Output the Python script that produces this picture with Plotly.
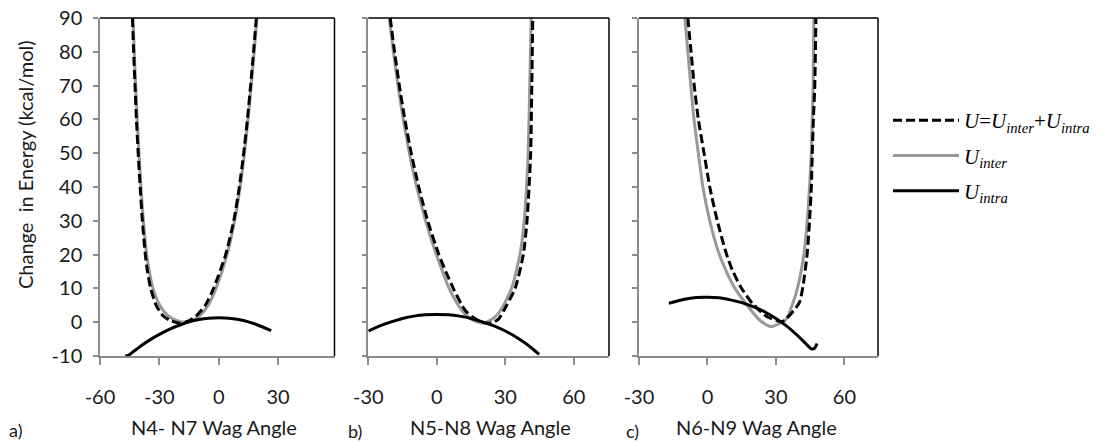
import plotly.graph_objects as go

# ---------------- data ----------------
# Panel a: N4-N7 wag
a_inter_x = [-43.3, -42.7, -42.0, -41.2, -40.3, -39.3, -38.1, -36.4, -35.1, -33.2, -29.8, -25.8, -21.5, -17.5, -13.5, -9.4, -5.3, -1.4, 4.2, 8.0, 10.8, 13.0, 14.8, 16.4, 17.9, 19.3]
a_inter_y = [90, 80, 70, 60, 50, 40, 30, 20, 15, 10, 5, 2, 0.5, 0.0, 0.5, 2, 5, 10, 20, 30, 40, 50, 60, 70, 80, 90]
a_tot_x = [-43.6, -43.0, -42.3, -41.6, -40.7, -39.7, -38.6, -37.1, -36.0, -34.4, -31.6, -28.3, -24.5, -19.5, -15.5, -11.5, -6.8, -2.6, 3.5, 7.6, 10.4, 12.6, 14.5, 16.1, 17.6, 19.0]
a_tot_y = [90, 80, 70, 60, 50, 40, 30, 20, 15, 10, 5, 2, 0.5, -0.3, 0.3, 1.8, 5, 10, 20, 30, 40, 50, 60, 70, 80, 90]
a_intra_x = [-47.3, -46.0, -44.0, -40.0, -35.0, -30.0, -25.0, -20.0, -15.0, -10.0, -5.0, 0.0, 5.0, 10.0, 15.0, 20.0, 26.5]
a_intra_y = [-10.0, -9.9, -9.1, -7.3, -5.3, -3.6, -2.1, -0.9, 0.1, 0.8, 1.2, 1.3, 1.2, 0.8, 0.1, -0.9, -2.5]

# Panel b: N5-N8 wag
b_inter_x = [-20.8, -19.0, -17.0, -14.7, -12.0, -8.8, -4.9, -0.2, 2.5, 5.4, 9.4, 12.9, 16.5, 20.5, 24.0, 27.0, 30.0, 33.0, 36.4, 38.3, 39.3, 40.0, 40.7, 41.3]
b_inter_y = [90, 80, 70, 60, 50, 40, 30, 20, 15, 10, 5, 2, 0.4, -0.2, 0.8, 2.6, 6, 10.5, 20, 30, 40, 50, 70, 90]
b_tot_x = [-20.4, -18.5, -16.4, -14.0, -11.2, -7.9, -4.0, 0.9, 3.9, 7.2, 11.0, 12.8, 16.0, 20.0, 24.0, 27.0, 30.6, 34.3, 37.9, 39.5, 40.4, 41.1, 41.6, 42.0]
b_tot_y = [90, 80, 70, 60, 50, 40, 30, 20, 15, 10, 5, 3.2, 1.4, -0.1, -0.2, 0.9, 5, 10, 20, 30, 40, 50, 70, 90]
b_intra_x = [-30.0, -25.0, -20.0, -15.0, -10.0, -5.0, 0.0, 5.0, 10.0, 15.0, 20.0, 25.0, 30.0, 35.0, 40.0, 44.8]
b_intra_y = [-2.6, -1.1, 0.1, 1.1, 1.8, 2.2, 2.3, 2.2, 1.8, 1.1, 0.1, -1.1, -2.6, -4.5, -6.8, -9.5]

# Panel c: N6-N9 wag
c_inter_x = [-9.9, -8.6, -7.3, -5.9, -4.0, -2.0, 1.0, 5.0, 8.0, 11.6, 16.7, 22.8, 27.7, 34.2, 37.4, 39.6, 42.3, 43.7, 44.7, 45.5, 45.9, 46.3, 46.6]
c_inter_y = [90, 80, 70, 60, 50, 40, 30, 20.4, 15.4, 10.5, 5.6, 0.65, -1.3, 0.65, 5.6, 10.5, 20.4, 30, 40, 50, 60, 70, 90]
c_tot_x = [-8.6, -7.2, -5.8, -4.0, -1.5, 1.0, 4.3, 8.2, 10.9, 14.5, 19.6, 26.2, 32.8, 40.1, 41.8, 43.7, 44.7, 45.5, 45.9, 46.4, 47.0, 47.5]
c_tot_y = [90, 80, 70, 60, 50, 40, 30, 20.4, 15.4, 10.5, 5.6, 1.6, 0.2, 5.6, 10.5, 20.4, 30, 40, 50, 60, 70, 90]
c_intra_x = [-16.9, -10.0, -5.0, 0.0, 5.0, 10.0, 15.0, 20.0, 25.0, 30.0, 35.0, 40.0, 43.0, 45.5, 46.8, 48.0]
c_intra_y = [5.6, 6.8, 7.3, 7.4, 7.2, 6.6, 5.8, 4.6, 3.1, 1.1, -1.3, -4.3, -6.3, -7.9, -7.8, -6.3]

panel_titles = ["N4- N7 Wag Angle", "N5-N8 Wag Angle", "N6-N9 Wag Angle"]
panel_letters = ["a)", "b)", "c)"]
x_ticks_a = [-60, -30, 0, 30]
x_ticks_bc = [-30, 0, 30, 60]
y_ticks = [-10, 0, 10, 20, 30, 40, 50, 60, 70, 80, 90]

legend_tot = "<i>U</i>=<i>U<sub>inter</sub></i>+<i>U<sub>intra</sub></i>"
legend_inter = "<i>U<sub>inter</sub></i>"
legend_intra = "<i>U<sub>intra</sub></i>"

# ---------------- figure ----------------
W, H = 1114, 443
GRAY = "#999999"
AX = "#8c8c8c"
FONT = "Lato"
FS = 20
TXT = "#1a1a1a"

fig = go.Figure()

panels = [
    (a_inter_x, a_inter_y, a_tot_x, a_tot_y, a_intra_x, a_intra_y),
    (b_inter_x, b_inter_y, b_tot_x, b_tot_y, b_intra_x, b_intra_y),
    (c_inter_x, c_inter_y, c_tot_x, c_tot_y, c_intra_x, c_intra_y),
]
for i, (ix, iy, tx, ty, rx, ry) in enumerate(panels):
    xa = "x" if i == 0 else f"x{i+1}"
    ya = "y" if i == 0 else f"y{i+1}"
    show = i == 0
    fig.add_trace(go.Scatter(x=ix, y=iy, xaxis=xa, yaxis=ya, mode="lines",
                             line=dict(color=GRAY, width=3, shape="spline", smoothing=0.6),
                             name=legend_inter, legendgroup="inter", legendrank=2,
                             showlegend=show, hoverinfo="skip"))
    fig.add_trace(go.Scatter(x=rx, y=ry, xaxis=xa, yaxis=ya, mode="lines",
                             line=dict(color="black", width=3, shape="spline", smoothing=0.6),
                             name=legend_intra, legendgroup="intra", legendrank=3,
                             showlegend=show, hoverinfo="skip"))
    fig.add_trace(go.Scatter(x=tx, y=ty, xaxis=xa, yaxis=ya, mode="lines",
                             line=dict(color="black", width=3, dash="9px,4px", shape="spline", smoothing=0.6),
                             name=legend_tot, legendgroup="tot", legendrank=1,
                             showlegend=show, hoverinfo="skip"))

x_domains = [[100 / W, 334.5 / W], [368.3 / W, 609 / W], [639 / W, 878 / W]]
y_domain = [(H - 356) / H, (H - 18) / H]
x_ranges = [[-60, 58.5], [-30, 75.4], [-30, 74.7]]

layout = dict(
    width=W, height=H,
    margin=dict(l=0, r=0, t=0, b=0, pad=0, autoexpand=False),
    paper_bgcolor="white", plot_bgcolor="white",
    font=dict(family=FONT, size=FS, color=TXT),
    legend=dict(x=888 / W, y=(H - 100) / H, xanchor="left", yanchor="top",
                font=dict(family="Liberation Serif", size=21, color="black"),
                traceorder="grouped", tracegroupgap=5, bgcolor="rgba(0,0,0,0)",
                itemwidth=66),
    showlegend=True,
)
for i in range(3):
    suffix = "" if i == 0 else str(i + 1)
    ticks = x_ticks_a if i == 0 else x_ticks_bc
    layout["xaxis" + suffix] = dict(
        domain=x_domains[i], range=x_ranges[i], anchor="y" + suffix,
        tickvals=ticks, ticktext=[str(t) for t in ticks],
        ticks="outside", ticklen=7, tickwidth=1.5, tickcolor=AX,
        showline=True, linecolor=AX, linewidth=1.5,
        showgrid=False, zeroline=False, ticklabelstandoff=15, automargin=False,
        tickfont=dict(family=FONT, size=FS, color=TXT),
    )
    layout["yaxis" + suffix] = dict(
        domain=y_domain, range=[-10, 90], anchor="x" + suffix,
        tickvals=y_ticks, ticktext=[str(t) for t in y_ticks],
        showticklabels=(i == 0),
        ticks="outside", ticklen=5, tickwidth=1.5, tickcolor=AX,
        showline=True, linecolor=AX, linewidth=1.5,
        showgrid=False, zeroline=False, ticklabelstandoff=7, automargin=False,
        tickfont=dict(family=FONT, size=FS, color=TXT),
    )
fig.update_layout(**layout)

# black top/right frame of each plot area
for i in range(3):
    suffix = "" if i == 0 else str(i + 1)
    for (x0, y0, x1, y1) in [(0, 1, 1, 1), (1, 0, 1, 1)]:
        fig.add_shape(type="line", xref=f"x{suffix} domain", yref=f"y{suffix} domain",
                      x0=x0, y0=y0, x1=x1, y1=y1, line=dict(color="black", width=1.5))

# axis titles and panel letters
title_centers = [214, 490, 756]
letter_pos = [(15, 430), (355, 431), (632, 431)]
for i in range(3):
    fig.add_annotation(text=panel_titles[i], xref="paper", yref="paper",
                       x=title_centers[i] / W, y=(H - 427) / H, xanchor="center", yanchor="middle",
                       showarrow=False, font=dict(family=FONT, size=FS, color=TXT))
    lx, ly = letter_pos[i]
    fig.add_annotation(text=panel_letters[i], xref="paper", yref="paper",
                       x=lx / W, y=(H - ly) / H, xanchor="center", yanchor="middle",
                       showarrow=False, font=dict(family=FONT, size=18, color=TXT))

fig.add_annotation(text="Change  in Energy (kcal/mol)", xref="paper", yref="paper",
                   x=25 / W, y=(H - 165) / H, xanchor="center", yanchor="middle",
                   textangle=-90, showarrow=False,
                   font=dict(family=FONT, size=FS, color=TXT))

fig.write_html("out.html")
